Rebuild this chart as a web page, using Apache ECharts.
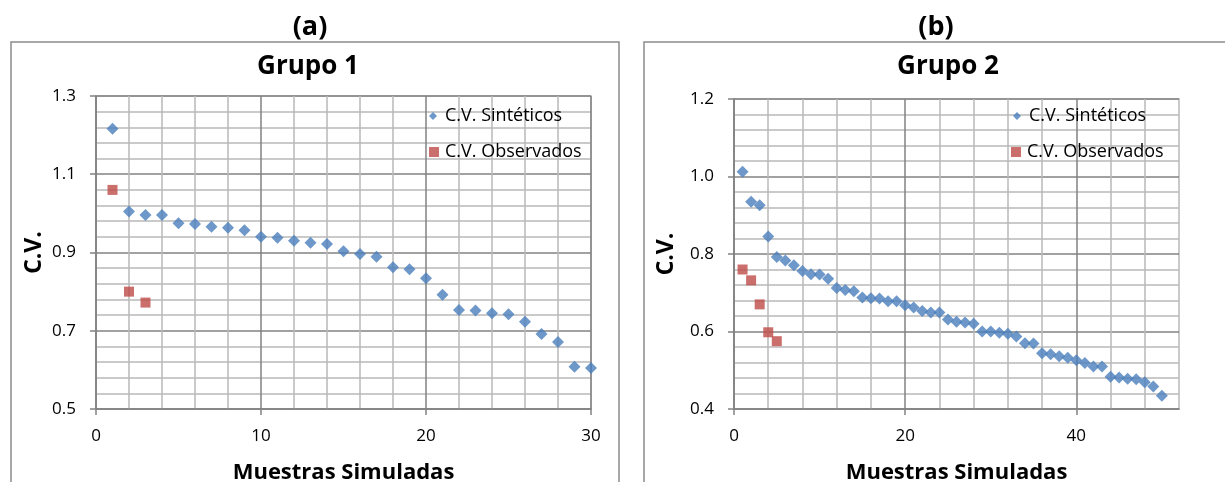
<!DOCTYPE html>
<html>
<head>
<meta charset="utf-8">
<script src="https://cdn.jsdelivr.net/npm/echarts@6.0.0/dist/echarts.min.js"></script>
<style>
html,body{margin:0;padding:0;background:#ffffff;}
#chart{width:1225px;height:482px;}
</style>
</head>
<body>
<div id="chart"></div>
<script>
// ---------- data ----------
const panelLabels = ['(a)', '(b)'];
const groupTitles = ['Grupo 1', 'Grupo 2'];
const seriesNames = ['C.V. Sintéticos', 'C.V. Observados'];
const xAxisName = 'Muestras Simuladas';
const yAxisName = 'C.V.';

// Panel (a) – Grupo 1
const samplesA = [1,2,3,4,5,6,7,8,9,10,11,12,13,14,15,16,17,18,19,20,21,22,23,24,25,26,27,28,29,30];
const synthA = [1.216,1.005,0.996,0.996,0.975,0.973,0.966,0.963,0.957,0.940,
                0.938,0.930,0.925,0.922,0.903,0.896,0.889,0.862,0.857,0.834,
                0.792,0.753,0.752,0.745,0.742,0.723,0.692,0.671,0.608,0.605];
const obsSamplesA = [1,2,3];
const obsA = [1.060,0.800,0.772];
const xTicksA = [0,10,20,30];
const yTicksA = [0.5,0.7,0.9,1.1,1.3];

// Panel (b) – Grupo 2
const samplesB = [1,2,3,4,5,6,7,8,9,10,11,12,13,14,15,16,17,18,19,20,21,22,23,24,25,
                  26,27,28,29,30,31,32,33,34,35,36,37,38,39,40,41,42,43,44,45,46,47,48,49,50];
const synthB = [1.012,0.935,0.926,0.845,0.792,0.783,0.771,0.756,0.748,0.747,
                0.736,0.712,0.707,0.704,0.688,0.686,0.685,0.678,0.678,0.668,
                0.662,0.653,0.649,0.649,0.631,0.625,0.623,0.620,0.600,0.600,
                0.597,0.594,0.587,0.570,0.569,0.544,0.541,0.536,0.532,0.526,
                0.519,0.510,0.510,0.483,0.481,0.478,0.477,0.469,0.458,0.434];
const obsSamplesB = [1,2,3,4,5];
const obsB = [0.760,0.732,0.670,0.598,0.575];
const xTicksB = [0,20,40];
const yTicksB = [0.4,0.6,0.8,1.0,1.2];

// ---------- styling ----------
const FONT = '"Open Sans", Lato, sans-serif';
const MAJOR = '#828282';
const MINOR = '#b9b9b9';
const BLUE = '#4a7ebb';
const RED = '#be4b48';

function pairs(xs, ys) { return xs.map((x, i) => [x, ys[i]]); }

function xAxisCfg(gridIndex, min, max, interval, ticks, nameGap) {
  return {
    type: 'value', gridIndex, min, max, interval,
    name: xAxisName, nameLocation: 'middle', nameGap,
    nameTextStyle: {fontFamily: FONT, fontWeight: 'bold', fontSize: 22, color: '#000'},
    axisLine: {show: true, onZero: false, lineStyle: {color: MAJOR, width: 1.5}},
    axisTick: {show: true, inside: false, length: 6, customValues: ticks, lineStyle: {color: MAJOR, width: 1.5}},
    axisLabel: {customValues: ticks, margin: 19, fontFamily: FONT, fontSize: 17, color: '#000',
                formatter: v => String(v)},
    splitLine: {show: true, lineStyle: {color: MAJOR, width: 1.5}},
    minorTick: {show: false, splitNumber: 5},
    minorSplitLine: {show: true, lineStyle: {color: MINOR, width: 1.5}}
  };
}

function yAxisCfg(gridIndex, min, max, ticks, nameGap) {
  return {
    type: 'value', gridIndex, min, max, interval: 0.2,
    name: yAxisName, nameLocation: 'middle', nameGap, nameRotate: 90,
    nameTextStyle: {fontFamily: FONT, fontWeight: 'bold', fontSize: 23, color: '#000'},
    axisLine: {show: true, onZero: false, lineStyle: {color: MAJOR, width: 1.5}},
    axisTick: {show: true, inside: false, length: 6, customValues: ticks, lineStyle: {color: MAJOR, width: 1.5}},
    axisLabel: {customValues: ticks, margin: 20, fontFamily: FONT, fontSize: 17, color: '#000',
                formatter: v => Number(v).toFixed(1)},
    splitLine: {show: true, lineStyle: {color: MAJOR, width: 1.5}},
    minorTick: {show: false, splitNumber: 5},
    minorSplitLine: {show: true, lineStyle: {color: MINOR, width: 1.5}}
  };
}

function legendCfg(name, icon, left, top, size, pad) {
  return {
    data: [{name, icon}], left, top, orient: 'vertical', padding: 0,
    itemWidth: size, itemHeight: size, selectedMode: false,
    textStyle: {fontFamily: FONT, fontSize: 18, color: '#000', padding: [0, 0, 0, pad]}
  };
}

const chart = echarts.init(document.getElementById('chart'), null, {renderer: 'canvas'});

const titleStyle = {fontFamily: FONT, fontWeight: 'bold', fontSize: 26, color: '#000'};

const option = {
  backgroundColor: '#ffffff',
  animation: false,
  graphic: [
    {type: 'rect', shape: {x: 11, y: 42, width: 608, height: 470}, style: {fill: 'none', stroke: '#8c8c8c', lineWidth: 1.5}, silent: true},
    {type: 'rect', shape: {x: 644, y: 42, width: 620, height: 470}, style: {fill: 'none', stroke: '#8c8c8c', lineWidth: 1.5}, silent: true}
  ],
  title: [
    {text: panelLabels[0], left: 310, top: 27, textAlign: 'center', textVerticalAlign: 'middle', padding: 0,
     textStyle: Object.assign({}, titleStyle, {fontSize: 27})},
    {text: panelLabels[1], left: 936, top: 27, textAlign: 'center', textVerticalAlign: 'middle', padding: 0,
     textStyle: Object.assign({}, titleStyle, {fontSize: 27})},
    {text: groupTitles[0], left: 308, top: 67, textAlign: 'center', textVerticalAlign: 'middle', padding: 0,
     textStyle: titleStyle},
    {text: groupTitles[1], left: 948, top: 67, textAlign: 'center', textVerticalAlign: 'middle', padding: 0,
     textStyle: titleStyle}
  ],
  legend: [
    legendCfg(seriesNames[0], 'diamond', 429, 107, 8, 3),
    legendCfg(seriesNames[1], 'rect', 429, 143, 10, 1),
    legendCfg(seriesNames[0], 'diamond', 1013, 107, 8, 3),
    legendCfg(seriesNames[1], 'rect', 1011, 143, 10, 1)
  ],
  grid: [
    {left: 96, top: 96, width: 495, height: 313, show: true, borderColor: MINOR, borderWidth: 1.5,
     containLabel: false, outerBoundsMode: 'none'},
    {left: 734, top: 99, width: 445, height: 310, show: true, borderColor: MINOR, borderWidth: 1.5,
     containLabel: false, outerBoundsMode: 'none'}
  ],
  xAxis: [
    xAxisCfg(0, 0, 30, 10, xTicksA, 53),
    xAxisCfg(1, 0, 52, 20, xTicksB, 53)
  ],
  yAxis: [
    yAxisCfg(0, 0.5, 1.3, yTicksA, 50),
    yAxisCfg(1, 0.4, 1.2, yTicksB, 56)
  ],
  series: [
    {name: seriesNames[0], type: 'scatter', xAxisIndex: 0, yAxisIndex: 0, symbol: 'diamond', symbolSize: 12,
     itemStyle: {color: BLUE}, data: pairs(samplesA, synthA)},
    {name: seriesNames[1], type: 'scatter', xAxisIndex: 0, yAxisIndex: 0, symbol: 'rect', symbolSize: 10,
     itemStyle: {color: RED}, data: pairs(obsSamplesA, obsA)},
    {name: seriesNames[0], type: 'scatter', xAxisIndex: 1, yAxisIndex: 1, symbol: 'diamond', symbolSize: 12,
     itemStyle: {color: BLUE}, data: pairs(samplesB, synthB)},
    {name: seriesNames[1], type: 'scatter', xAxisIndex: 1, yAxisIndex: 1, symbol: 'rect', symbolSize: 10,
     itemStyle: {color: RED}, data: pairs(obsSamplesB, obsB)}
  ]
};
chart.setOption(option);
</script>
</body>
</html>
